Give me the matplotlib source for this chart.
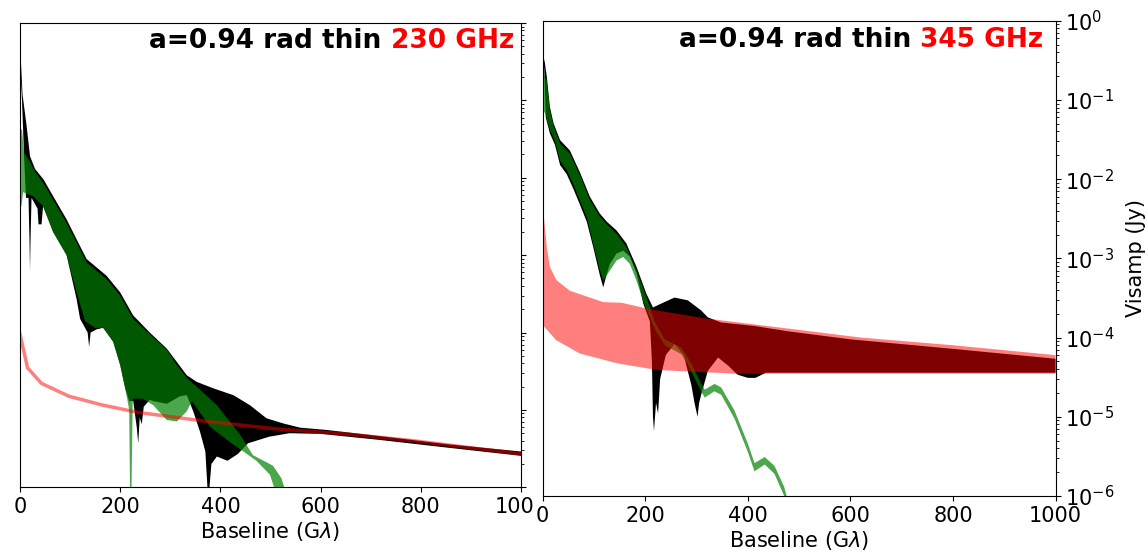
import numpy as np
import matplotlib
matplotlib.use('Agg')
import matplotlib.pyplot as plt
from matplotlib.patches import Rectangle

# ---- 230 GHz panel (Jy) ----
blk230_up_x = [0, 2, 5, 13, 20, 30, 47, 66, 93, 113, 133, 173, 200, 226, 259, 293, 333, 353,
               386, 426, 459, 492, 525, 559, 613, 717, 854, 1000]
blk230_up = [0.43, 0.3, 0.12, 0.048, 0.019, 0.013, 9.5e-3, 5.8e-3, 2.9e-3, 1.6e-3, 8.9e-4, 5.4e-4,
             3.3e-4, 1.66e-4, 1.0e-4, 6.2e-5, 2.8e-5, 2.3e-5, 1.9e-5, 1.55e-5, 1.15e-5, 7.8e-6,
             6.7e-6, 5.9e-6, 5.5e-6, 4.6e-6, 3.6e-6, 2.9e-6]
blk230_lo_x = [0, 4, 8, 12, 17, 19, 20, 21, 23, 35, 37, 43, 46, 66, 93, 113, 120, 135, 138, 141,
               153, 166, 186, 200, 210, 218, 226, 233, 236, 239, 243, 247, 259, 266, 293, 319, 333,
               346, 359, 370, 375, 377, 382, 393, 414, 435, 455, 497, 538, 600, 717, 854, 1000]
blk230_lo = [0.3, 0.1, 0.02, 5.5e-3, 5.5e-3, 1.5e-3, 6.3e-4, 1.5e-3, 5.5e-3, 4e-3, 2.5e-3, 2.5e-3,
             4.3e-3, 2e-3, 1e-3, 2.7e-4, 1.5e-4, 1e-4, 6.5e-5, 1e-4, 1.1e-4, 1.15e-4, 7.6e-5,
             3.8e-5, 1.9e-5, 1.3e-5, 1.3e-5, 6e-6, 3.7e-6, 8e-6, 6.5e-6, 1.1e-5, 1.35e-5, 1.3e-5,
             1.2e-5, 1.5e-5, 1.55e-5, 9.5e-6, 5.3e-6, 2.9e-6, 8e-7, 8e-7, 2e-6, 2.5e-6, 2.2e-6,
             2.7e-6, 3.7e-6, 4.5e-6, 5.0e-6, 4.9e-6, 4.1e-6, 3.25e-6, 2.55e-6]
grn230_up_x = [0, 4, 8, 18, 30, 47, 66, 93, 113, 133, 173, 200, 226, 259, 293, 313, 333, 393,
               439, 465, 505, 522, 532]
grn230_up = [0.042, 0.042, 0.021, 0.017, 0.012, 8.5e-3, 5.2e-3, 2.6e-3, 1.45e-3, 8e-4, 4.9e-4,
             3e-4, 1.5e-4, 9.5e-5, 6e-5, 3.8e-5, 2.6e-5, 1.15e-5, 4.8e-6, 2.6e-6, 1.9e-6, 1.3e-6,
             8e-7]
grn230_lo_x = [0, 3, 6, 26, 46, 66, 93, 113, 130, 150, 166, 186, 200, 210, 218, 220, 222, 225,
               245, 266, 293, 313, 333, 343, 380, 420, 446, 472, 499, 512]
grn230_lo = [4.3e-3, 4.3e-3, 6.5e-3, 5.8e-3, 4.3e-3, 2e-3, 1e-3, 3.3e-4, 1.4e-4, 1.15e-4, 1.15e-4,
             7.6e-5, 3.8e-5, 1.9e-5, 1e-5, 5e-7, 5e-7, 1.4e-5, 1.4e-5, 1.15e-5, 7.4e-6, 7.1e-6,
             9.6e-6, 1.3e-5, 6e-6, 3.8e-6, 2.9e-6, 2.2e-6, 1.45e-6, 8e-7]
red230_x = [0, 1.4, 15, 43, 98, 166, 235, 373, 510, 648, 785, 1000]
red230 = [9.5e-5, 8.7e-5, 3.5e-5, 2.2e-5, 1.5e-5, 1.15e-5, 9.3e-6, 7.1e-6, 5.7e-6, 4.9e-6,
          4.0e-6, 2.7e-6]

# ---- 345 GHz panel ----
blk345_up_x = [0, 4, 8, 14, 21, 34, 53, 73, 92, 111, 125, 144, 163, 183, 202, 215, 232, 257,
               283, 309, 322, 348, 413, 478, 600, 800, 1000]
blk345_up = [0.38, 0.3, 0.197, 0.082, 0.051, 0.031, 0.023, 0.012, 6e-3, 3.7e-3, 2.9e-3, 2.25e-3,
             1.55e-3, 7.8e-4, 3.6e-4, 2.4e-4, 2.7e-4, 3.2e-4, 2.95e-4, 2.2e-4, 1.8e-4, 1.55e-4,
             1.4e-4, 1.2e-4, 9.5e-5, 7.2e-5, 5.4e-5]
blk345_lo_x = [0, 3, 6, 14, 24, 34, 47, 60, 73, 86, 99, 111, 118, 124, 131, 144, 157, 170, 183,
               196, 209, 213, 215, 217, 221, 225, 229, 240, 257, 275, 290, 296, 302, 305, 310,
               322, 342, 362, 380, 400, 415, 435, 1000]
blk345_lo = [0.3, 0.25, 0.06, 0.038, 0.027, 0.015, 0.0115, 7.5e-3, 4.7e-3, 2.9e-3, 1.35e-3, 6.3e-4,
             4.3e-4, 6e-4, 8.5e-4, 1.15e-3, 1.25e-3, 1.05e-3, 6.5e-4, 2.7e-4, 1.6e-4, 5e-5, 1e-5,
             6.6e-6, 1.5e-5, 1.1e-5, 3e-5, 6e-5, 8.3e-5, 6e-5, 2.5e-5, 1.5e-5, 1e-5, 1.5e-5, 2e-5,
             3.8e-5, 5.6e-5, 4.4e-5, 3.4e-5, 3.1e-5, 3.1e-5, 3.6e-5, 3.6e-5]
grn345_up_x = [0, 4, 8, 14, 21, 34, 53, 73, 92, 111, 125, 144, 163, 183, 202, 218, 238, 270,
               283, 296, 309, 316, 335, 348, 374, 400, 413, 433, 452, 471, 482]
grn345_up = [0.22, 0.2, 0.17, 0.075, 0.047, 0.028, 0.021, 0.011, 5.5e-3, 3.4e-3, 2.7e-3, 2.05e-3,
             1.4e-3, 7e-4, 3.3e-4, 1.6e-4, 9.5e-5, 7.5e-5, 5.6e-5, 3.9e-5, 2.6e-5, 2.2e-5, 2.6e-5,
             2.35e-5, 1.2e-5, 4.6e-6, 2.6e-6, 3.1e-6, 2.4e-6, 1.3e-6, 7e-7]
grn345_lo_x = [0, 4, 14, 24, 34, 47, 60, 73, 86, 99, 111, 118, 131, 144, 157, 170, 183, 196, 209,
               218, 238, 270, 283, 296, 309, 316, 335, 348, 374, 400, 413, 433, 452, 471, 482]
grn345_lo = [0.068, 0.07, 0.042, 0.03, 0.017, 0.013, 8.5e-3, 5.3e-3, 3.3e-3, 1.5e-3, 7.2e-4,
             5.2e-4, 7e-4, 9.4e-4, 1.04e-3, 8.5e-4, 5.2e-4, 2.9e-4, 1.8e-4, 1.3e-4, 8e-5, 6.2e-5,
             4.6e-5, 3.1e-5, 2.1e-5, 1.75e-5, 2.1e-5, 1.9e-5, 9.5e-6, 3.6e-6, 2.05e-6, 2.5e-6,
             1.9e-6, 1e-6, 6e-7]
red345_up_x = [0, 3, 8, 14, 27, 53, 118, 154, 206, 316, 478, 621, 800, 1000]
red345_up = [4.8e-3, 3e-3, 1.4e-3, 7.8e-4, 5.3e-4, 3.9e-4, 2.8e-4, 2.75e-4, 2.3e-4, 1.75e-4,
             1.3e-4, 1.0e-4, 8e-5, 6e-5]
red345_lo_x = [0, 4, 26, 72, 147, 223, 374, 1000]
red345_lo = [1.5e-4, 1.35e-4, 9.3e-5, 6.3e-5, 4.7e-5, 3.9e-5, 3.5e-5, 3.5e-5]

xticks = [0, 200, 400, 600, 800, 1000]

W, H = 1148, 556
fig = plt.figure(figsize=(W / 100, H / 100), dpi=100)


def pos(x0, y0, x1, y1):
    # pixel box -> figure fraction
    return [x0 / W, 1 - y1 / H, (x1 - x0) / W, (y1 - y0) / H]


def band(ax, xu, yu, xl, yl, **kw):
    ax.fill(list(xu) + list(xl)[::-1], list(yu) + list(yl)[::-1], lw=0, **kw)


ax1 = fig.add_axes(pos(20, 23, 521, 487.3))
ax2 = fig.add_axes(pos(542.7, 20.7, 1055.5, 496))
ax1.set_zorder(0)
ax2.set_zorder(2)

band(ax1, blk230_up_x, blk230_up, blk230_lo_x, blk230_lo, color='black')
band(ax1, grn230_up_x, grn230_up, grn230_lo_x, grn230_lo, color='green', alpha=0.7)
ax1.plot(red230_x, red230, color='red', alpha=0.5, lw=2.5)

band(ax2, blk345_up_x, blk345_up, blk345_lo_x, blk345_lo, color='black')
band(ax2, grn345_up_x, grn345_up, grn345_lo_x, grn345_lo, color='green', alpha=0.7)
band(ax2, red345_up_x, red345_up, red345_lo_x, red345_lo, color='red', alpha=0.5)

for ax in (ax1, ax2):
    ax.set_yscale('log')
    ax.set_ylim(1e-6, 1)
    ax.set_xlim(0, 1000)
    ax.set_xticks(xticks)
    ax.yaxis.tick_right()
    ax.tick_params(labelsize=15)
    ax.set_xlabel(r'Baseline (G$\lambda$)', fontsize=15, labelpad=2)

ax1.tick_params(axis='y', which='both', labelright=False)
ax2.yaxis.set_label_position('right')
ax2.set_ylabel('Visamp (Jy)', fontsize=15, labelpad=8)

# the right picture was pasted over the left one: hide the last "0" of "1000"
fig.add_artist(Rectangle((534 / W, 1 - 530 / H), 30 / W, 33 / H, transform=fig.transFigure,
                         color='white', zorder=1))

for right_px, base_px, freq in [(514, 48, '230 GHz'), (1043, 47.3, '345 GHz')]:
    t = fig.text(right_px / W, 1 - base_px / H, freq, color='red', fontsize=19,
                 fontweight='bold', ha='right', va='baseline', zorder=5)
    ax = ax1 if right_px < 600 else ax2
    ax.annotate('a=0.94 rad thin', xy=(0, 0), xycoords=t, xytext=(-6.5, 0),
                textcoords='offset points', ha='right', va='bottom', fontsize=19,
                fontweight='bold', color='black', annotation_clip=False)

fig.savefig('out.png', dpi=100)
